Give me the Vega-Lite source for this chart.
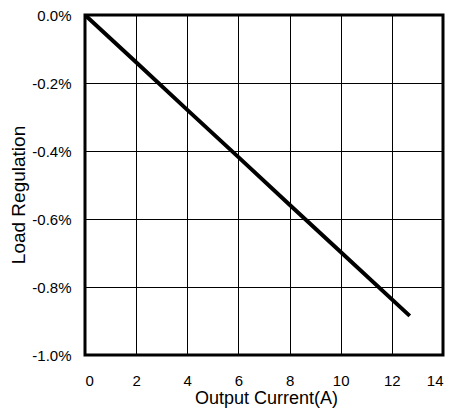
{
  "$schema": "https://vega.github.io/schema/vega-lite/v6.json",
  "autosize": {"type": "none"},
  "padding": {"left": 85, "top": 15, "right": 8, "bottom": 53},
  "width": 358,
  "height": 340,
  "background": "white",
  "config": {
    "font": "Liberation Sans",
    "view": {"stroke": "black", "strokeWidth": 3}
  },
  "data": {
    "values": [
      {"current": 0, "reg": 0},
      {"current": 2, "reg": -0.139},
      {"current": 4, "reg": -0.279},
      {"current": 6, "reg": -0.418},
      {"current": 8, "reg": -0.558},
      {"current": 10, "reg": -0.697},
      {"current": 12.7, "reg": -0.885}
    ]
  },
  "mark": {"type": "line", "color": "black", "strokeWidth": 4, "clip": true},
  "encoding": {
    "x": {
      "field": "current", "type": "quantitative",
      "scale": {"domain": [0, 14], "nice": false, "zero": false},
      "axis": {
        "title": "Output Current(A)", "values": [0, 2, 4, 6, 8, 10, 12, 14],
        "grid": true, "gridColor": "black", "gridOpacity": 1, "gridWidth": 1,
        "ticks": false, "domain": false, "labelPadding": 18,
        "labelFontSize": 15, "labelColor": "black", "labelFont": "Liberation Sans",
        "titleFontSize": 18, "titleFontWeight": "normal", "titleColor": "black",
        "titleFont": "Liberation Sans", "titleBaseline": "alphabetic", "titleY": 48.5, "titleX": 181
      }
    },
    "y": {
      "field": "reg", "type": "quantitative",
      "scale": {"domain": [-1, 0], "nice": false, "zero": false},
      "axis": {
        "title": "Load Regulation", "values": [-1, -0.8, -0.6, -0.4, -0.2, 0],
        "labelExpr": "replace(format(datum.value, '.1f'), '\u2212', '-') + '%'",
        "grid": true, "gridColor": "black", "gridOpacity": 1, "gridWidth": 1,
        "ticks": false, "domain": false, "labelPadding": 14,
        "labelFontSize": 15, "labelColor": "black", "labelFont": "Liberation Sans",
        "titleFontSize": 19, "titleFontWeight": "normal", "titleColor": "black",
        "titleFont": "Liberation Sans", "titleBaseline": "alphabetic", "titleX": -61, "titleY": 179.5, "titleAngle": 270, "titleAlign": "center"
      }
    }
  }
}
